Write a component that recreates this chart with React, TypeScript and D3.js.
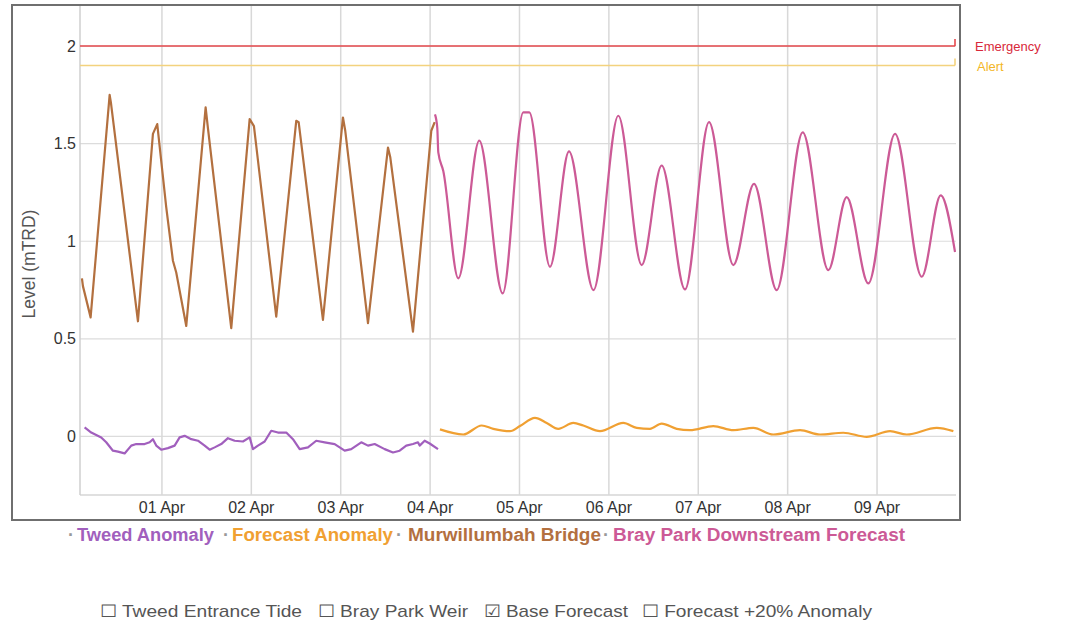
import React from "react";
import * as d3 from "d3";

// Hours are measured from 01 Apr 00:00
const murwHours = [-21.48, -21.21, -19.15, -14.04, -13.7, -6.44, -2.42, -1.26, 1.15, 2.95, 3.84, 6.53, 11.73, 12.35, 18.61, 23.55, 24.7, 30.69, 36.06, 36.71, 43.23, 48.6, 49.22, 55.32, 60.69, 61.31, 67.4, 72.32, 73.23];
const murwLevels = [0.81, 0.77, 0.61, 1.75, 1.71, 0.59, 1.55, 1.6, 1.175, 0.9, 0.84, 0.566, 1.686, 1.58, 0.555, 1.626, 1.59, 0.614, 1.617, 1.61, 0.597, 1.634, 1.566, 0.58, 1.48, 1.43, 0.537, 1.566, 1.61];

const brayHours = [73.31, 73.93, 74.2, 75.54, 79.57, 85.2, 91.49, 97.02, 98.63, 104.19, 109.29, 115.87, 122.53, 128.81, 134.18, 140.44, 146.89, 153.41, 158.97, 165.06, 172.05, 178.92, 183.86, 189.66, 196.83, 204.0, 209.1, 212.94];
const brayLevels = [1.65, 1.58, 1.455, 1.36, 0.81, 1.515, 0.733, 1.66, 1.66, 0.869, 1.46, 0.75, 1.643, 0.878, 1.388, 0.753, 1.61, 0.878, 1.294, 0.75, 1.558, 0.852, 1.226, 0.784, 1.55, 0.818, 1.235, 0.945];

const tweedHours = [-20.76, -18.98, -16.3, -14.96, -13.16, -11.82, -10.02, -8.24, -6.9, -4.65, -3.3, -2.42, -1.53, -0.19, 1.61, 3.41, 4.75, 6.1, 7.87, 9.67, 11.47, 12.81, 14.15, 15.92, 17.72, 19.52, 21.75, 23.55, 24.44, 25.78, 27.58, 29.35, 31.15, 33.38, 35.18, 36.98, 39.21, 41.43, 43.69, 46.38, 49.06, 50.83, 53.52, 55.32, 57.12, 59.8, 62.03, 63.83, 65.6, 67.4, 68.74, 69.2, 70.54, 71.89, 74.12];
const tweedLevels = [0.046, 0.02, -0.005, -0.03, -0.073, -0.078, -0.087, -0.047, -0.039, -0.039, -0.03, -0.014, -0.047, -0.068, -0.06, -0.047, -0.005, 0.003, -0.014, -0.022, -0.047, -0.068, -0.056, -0.039, -0.009, -0.022, -0.026, -0.005, -0.065, -0.047, -0.026, 0.029, 0.02, 0.02, -0.014, -0.065, -0.056, -0.022, -0.03, -0.039, -0.073, -0.065, -0.03, -0.047, -0.039, -0.065, -0.082, -0.073, -0.047, -0.039, -0.03, -0.047, -0.022, -0.036, -0.065];

const fcHours = [74.65, 80.91, 85.85, 88.97, 93.45, 96.13, 100.16, 103.3, 106.42, 110.45, 113.13, 117.61, 123.87, 127.47, 131.04, 134.18, 138.21, 141.78, 148.04, 153.41, 158.78, 164.15, 171.32, 176.69, 182.95, 189.23, 195.49, 199.97, 208.03, 212.49];
const fcLevels = [0.036, 0.01, 0.056, 0.039, 0.027, 0.053, 0.095, 0.069, 0.039, 0.069, 0.056, 0.027, 0.069, 0.044, 0.039, 0.066, 0.039, 0.032, 0.053, 0.032, 0.044, 0.01, 0.032, 0.01, 0.019, -0.002, 0.027, 0.01, 0.044, 0.027];

const yTicks = [0, 0.5, 1, 1.5, 2];
const thresholdNames = ["Emergency", "Alert"];
const thresholdLevels = [2.0, 1.9];
const legendNames = ["Tweed Anomaly", "Forecast Anomaly", "Murwillumbah Bridge", "Bray Park Downstream Forecast"];
const optionNames = ["Tweed Entrance Tide", "Bray Park Weir", "Base Forecast", "Forecast +20% Anomaly"];
const optionChecked = [false, false, true, false];

const base = new Date(2019, 3, 1, 0, 0, 0).getTime();
const toDate = (h: number) => new Date(base + h * 3600e3);

const W = 1067;
const H = 622;
const plot = { left: 80, right: 956, top: 7, bottom: 495 };

const colors = {
  tweed: "#a15fbd",
  fc: "#f0a032",
  murw: "#b3703f",
  bray: "#cc5a96",
  emergency: "#e5484d",
  alert: "#f3d27e",
};
const thresholdLineColors = [colors.emergency, colors.alert];
const thresholdTextColors = ["#d8283a", "#f3b626"];
const legendColors = [colors.tweed, colors.fc, colors.murw, colors.bray];
const legendDotX = [71, 226, 399, 606];
const legendTextX = [77, 232, 408, 613];
const legendTextW = [137, 161, 193, 292];
const optionX = [100, 318, 484, 642];
const optionW = [202, 150, 144, 230];

export default function App() {
  const x = d3.scaleTime().domain([toDate(-22), toDate(213.2)]).range([plot.left, plot.right]);
  const y = d3.scaleLinear().domain([-0.3, 2.2]).range([plot.bottom, plot.top]);
  const days = d3.timeDay.range(toDate(-22), toDate(213.2)).filter((d) => x(d) > plot.left + 2);
  const fmt = d3.timeFormat("%d %b");

  const mk = (hours: number[], levels: number[], curve: d3.CurveFactory) =>
    d3
      .line<number>()
      .x((_, i) => x(toDate(hours[i])))
      .y((v) => y(v))
      .curve(curve)(levels) || "";

  const font = "Arial, 'Liberation Sans', Helvetica, sans-serif";

  return (
    <svg width={W} height={H} style={{ position: "absolute", left: 0, top: 0, background: "#fff" }} fontFamily={font}>
      {/* horizontal grid */}
      {yTicks.map((t) => (
        <line key={"h" + t} x1={plot.left} x2={plot.right} y1={y(t)} y2={y(t)} stroke="#dcdcdc" strokeWidth={1.2} />
      ))}
      <line x1={plot.left} x2={plot.right} y1={plot.bottom} y2={plot.bottom} stroke="#d6d6d6" strokeWidth={1.5} />
      {/* vertical grid */}
      {days.map((d) => (
        <line key={"v" + d.getTime()} x1={x(d)} x2={x(d)} y1={plot.top - 2} y2={plot.bottom} stroke="#d8d8d8" strokeWidth={1.5} />
      ))}
      <line x1={plot.left} x2={plot.left} y1={plot.top - 2} y2={plot.bottom} stroke="#cfcfcf" strokeWidth={1.5} />

      {/* thresholds */}
      {thresholdLevels.map((lv, i) => (
        <g key={"th" + i}>
          <line x1={plot.left} x2={plot.right - 1} y1={y(lv)} y2={y(lv)} stroke={thresholdLineColors[i]} strokeWidth={1.6} />
          <line x1={plot.right - 1} x2={plot.right - 1} y1={y(lv) - 7} y2={y(lv)} stroke={thresholdLineColors[i]} strokeWidth={1.6} />
          <text x={i === 0 ? 975 : 977} y={y(lv) + 5} fontSize={13} fill={thresholdTextColors[i]}>
            {thresholdNames[i]}
          </text>
        </g>
      ))}

      {/* series */}
      <path d={mk(murwHours, murwLevels, d3.curveLinear)} fill="none" stroke={colors.murw} strokeWidth={2.2} strokeLinejoin="round" />
      <path d={mk(brayHours, brayLevels, d3.curveMonotoneX)} fill="none" stroke={colors.bray} strokeWidth={2.2} strokeLinejoin="round" />
      <path d={mk(tweedHours, tweedLevels, d3.curveLinear)} fill="none" stroke={colors.tweed} strokeWidth={2.2} strokeLinejoin="round" />
      <path d={mk(fcHours, fcLevels, d3.curveMonotoneX)} fill="none" stroke={colors.fc} strokeWidth={2.2} strokeLinejoin="round" />

      {/* y ticks */}
      {yTicks.map((t) => (
        <text key={"yt" + t} x={76} y={y(t)} dy="0.35em" textAnchor="end" fontSize={16} fill="#333">
          {String(t)}
        </text>
      ))}
      <text transform={`translate(35,${264}) rotate(-90)`} textAnchor="middle" fontSize={17.5} fill="#555">
        Level (mTRD)
      </text>

      {/* x ticks */}
      {days.map((d) => (
        <text key={"xt" + d.getTime()} x={x(d)} y={513} textAnchor="middle" fontSize={16} fill="#333">
          {fmt(d)}
        </text>
      ))}

      {/* frame */}
      <rect x={12} y={5} width={948} height={515} fill="none" stroke="#6f6f6f" strokeWidth={2} />

      {/* legend */}
      {legendNames.map((n, i) => (
        <g key={"lg" + i}>
          <text x={legendDotX[i]} y={541} fontSize={18} fontWeight="bold" fill="#999" textAnchor="middle">
            ·
          </text>
          <text
            x={legendTextX[i]}
            y={541}
            fontSize={18}
            fontWeight="bold"
            fill={legendColors[i]}
            textLength={legendTextW[i]}
            lengthAdjust="spacingAndGlyphs"
          >
            {n}
          </text>
        </g>
      ))}

      {/* options */}
      {optionNames.map((n, i) => (
        <text
          key={"op" + i}
          x={optionX[i]}
          y={617}
          fontSize={17}
          fill="#555"
          textLength={optionW[i]}
          lengthAdjust="spacingAndGlyphs"
        >
          {(optionChecked[i] ? "☑" : "☐") + " " + n}
        </text>
      ))}
    </svg>
  );
}
